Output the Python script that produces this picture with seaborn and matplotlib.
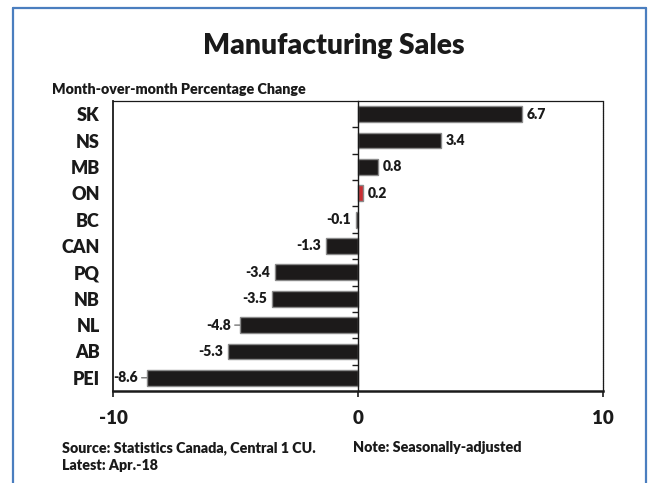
import matplotlib
matplotlib.use("Agg")
import matplotlib.pyplot as plt
from matplotlib.lines import Line2D
import seaborn as sns
import pandas as pd

# Data: month-over-month change in manufacturing sales by province
regions = ["SK", "NS", "MB", "ON", "BC", "CAN", "PQ", "NB", "NL", "AB", "PEI"]
changes = [6.7, 3.4, 0.8, 0.2, -0.1, -1.3, -3.4, -3.5, -4.8, -5.3, -8.6]
highlight = "ON"
leader_labels = ["NL", "PEI"]   # labels pulled away from their bar with a short leader
x_ticks = [-10, 0, 10]

sns.set_theme(style="white")
plt.rcParams["font.family"] = ["Lato", "DejaVu Sans"]
W = 800          # heavy weight for every label
INK = "#1a1a1a"

df = pd.DataFrame({"region": regions, "change": changes})
palette = {r: ("#e3141b" if r == highlight else "#1c1a1a") for r in regions}

fig = plt.figure(figsize=(6.49, 4.83), dpi=100)
ax = fig.add_axes([113 / 649, 1 - 391 / 483, 490 / 649, 290 / 483])

sns.barplot(data=df, y="region", x="change", hue="region", palette=palette,
            order=regions, orient="h", width=0.6, legend=False,
            edgecolor="#8a8a8a", linewidth=1.0, ax=ax)

ax.set_xlim(x_ticks[0], x_ticks[-1])
ax.set_ylim(len(regions) - 0.5, -0.5)
ax.set_xticks(x_ticks)
ax.set_xticklabels([str(t) for t in x_ticks], fontsize=13.5, fontweight=W, color=INK)
ax.tick_params(axis="x", direction="out", length=4.5, width=1.2, color=INK,
               pad=9.5, bottom=True)
ax.tick_params(axis="y", length=0, pad=9.5)
for lab in ax.get_yticklabels():
    lab.set_fontsize(13)
    lab.set_fontweight(W)
    lab.set_color(INK)
ax.set_xlabel("")
ax.set_ylabel("")

for side in ["top", "right", "left", "bottom"]:
    ax.spines[side].set_visible(True)
    ax.spines[side].set_color(INK)
ax.spines["bottom"].set_linewidth(1.8)
ax.spines["left"].set_linewidth(1.3)
ax.spines["top"].set_linewidth(0.9)
ax.spines["right"].set_linewidth(0.9)
ax.spines["right"].set_linestyle((0, (1, 0.6)))

# zero line with category separator ticks
ax0 = ax.twinx()
ax0.set_ylim(ax.get_ylim())
ax0.yaxis.tick_left()
ax0.spines["left"].set_position(("data", 0))
ax0.spines["left"].set_color(INK)
ax0.spines["left"].set_linewidth(1.0)
for side in ["top", "right", "bottom"]:
    ax0.spines[side].set_visible(False)
ax0.set_yticks([i + 0.5 for i in range(len(regions) - 1)])
ax0.set_yticklabels([])
ax0.tick_params(axis="y", direction="out", length=4, width=1.0, color=INK)

# value labels
for i, (r, v) in enumerate(zip(regions, changes)):
    sign = 1 if v >= 0 else -1
    ha = "left" if v >= 0 else "right"
    if r in leader_labels:
        ax.annotate(f"{v:.1f}", xy=(v, i), xytext=(sign * 7, 0),
                    textcoords="offset points", ha=ha, va="center",
                    fontsize=10, fontweight=W, color=INK,
                    arrowprops=dict(arrowstyle="-", color="#555555", lw=0.8,
                                    shrinkA=0.5, shrinkB=0.5))
    else:
        ax.annotate(f"{v:.1f}", xy=(v, i), xytext=(sign * 3.5, 0),
                    textcoords="offset points", ha=ha, va="center",
                    fontsize=10, fontweight=W, color=INK)

# text
fig.text(334 / 649, 1 - 54 / 483, "Manufacturing Sales", ha="center", va="baseline",
         fontsize=20.3, fontweight=W, color=INK)
fig.text(52 / 649, 1 - 94 / 483, "Month-over-month Percentage Change", ha="left",
         va="baseline", fontsize=10.3, fontweight=W, color=INK)
fig.text(62 / 649, 1 - 452 / 483, "Source: Statistics Canada, Central 1 CU.",
         ha="left", va="baseline", fontsize=10.3, fontweight=W, color=INK)
fig.text(62 / 649, 1 - 470 / 483, "Latest: Apr.-18", ha="left", va="baseline",
         fontsize=10.3, fontweight=W, color=INK)
fig.text(353 / 649, 1 - 452 / 483, "Note: Seasonally-adjusted", ha="left",
         va="baseline", fontsize=10.3, fontweight=W, color=INK)

# blue frame around the chart
blue = "#4a7ebf"
fx0, fx1, fy1 = 13 / 649, 646 / 649, 1 - 8 / 483
fig.add_artist(Line2D([fx0, fx0], [0, fy1], color=blue, lw=1.6))
fig.add_artist(Line2D([fx0, fx1], [fy1, fy1], color=blue, lw=1.6))
fig.add_artist(Line2D([fx1, fx1], [0, fy1], color=blue, lw=1.6))

fig.savefig("out.png", dpi=100)
